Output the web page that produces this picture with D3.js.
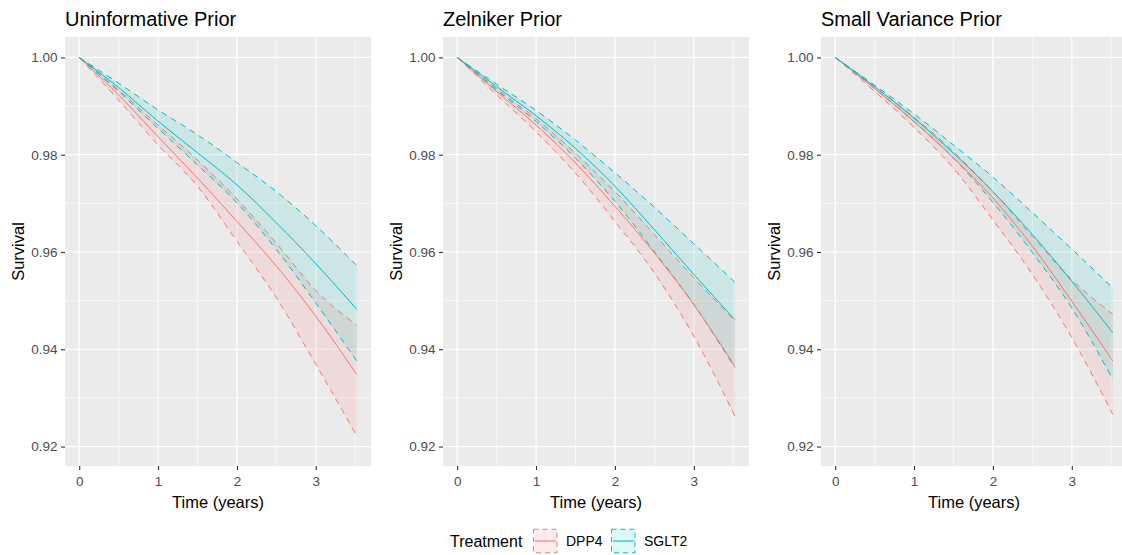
<!DOCTYPE html>
<html>
<head>
<meta charset="utf-8">
<script src="https://cdn.jsdelivr.net/npm/d3@7"></script>
<style>
  html, body { margin: 0; padding: 0; background: #ffffff; }
  svg { display: block; font-family: "Liberation Sans", Arial, sans-serif; }
</style>
</head>
<body>
<script>
// ---------------- data ----------------
const times = [0, 0.5, 1, 1.5, 2, 2.5, 3, 3.52];
const panelTitles = ["Uninformative Prior", "Zelniker Prior", "Small Variance Prior"];
const treatments = ["DPP4", "SGLT2"];
const yTickValues = [0.92, 0.94, 0.96, 0.98, 1.00];
const xTickValues = [0, 1, 2, 3];

// Uninformative prior
const uninfDPP4Mean  = [1, 0.9923, 0.9837, 0.9752, 0.9663, 0.9571, 0.9468, 0.9348];
const uninfDPP4Lower = [1, 0.9912, 0.9820, 0.9735, 0.9622, 0.9506, 0.9369, 0.9222];
const uninfDPP4Upper = [1, 0.9933, 0.9861, 0.9789, 0.9709, 0.9618, 0.9521, 0.9449];
const uninfSGLT2Mean  = [1, 0.9938, 0.9869, 0.9804, 0.9738, 0.9660, 0.9576, 0.9482];
const uninfSGLT2Lower = [1, 0.9930, 0.9854, 0.9779, 0.9701, 0.9605, 0.9495, 0.9376];
const uninfSGLT2Upper = [1, 0.9947, 0.9892, 0.9841, 0.9784, 0.9724, 0.9654, 0.9572];

// Zelniker prior
const zelDPP4Mean  = [1, 0.9930, 0.9861, 0.9783, 0.9694, 0.9598, 0.9492, 0.9365];
const zelDPP4Lower = [1, 0.9923, 0.9847, 0.9762, 0.9663, 0.9557, 0.9427, 0.9263];
const zelDPP4Upper = [1, 0.9936, 0.9874, 0.9803, 0.9724, 0.9636, 0.9547, 0.9458];
const zelSGLT2Mean  = [1, 0.9940, 0.9880, 0.9813, 0.9735, 0.9646, 0.9554, 0.9461];
const zelSGLT2Lower = [1, 0.9933, 0.9868, 0.9793, 0.9704, 0.9601, 0.9492, 0.9362];
const zelSGLT2Upper = [1, 0.9945, 0.9891, 0.9830, 0.9763, 0.9692, 0.9617, 0.9538];

// Small variance prior
const smallDPP4Mean  = [1, 0.9936, 0.9868, 0.9793, 0.9711, 0.9612, 0.9499, 0.9376];
const smallDPP4Lower = [1, 0.9930, 0.9856, 0.9772, 0.9666, 0.9554, 0.9424, 0.9266];
const smallDPP4Upper = [1, 0.9940, 0.9877, 0.9806, 0.9724, 0.9632, 0.9543, 0.9472];
const smallSGLT2Mean  = [1, 0.9940, 0.9875, 0.9803, 0.9724, 0.9636, 0.9540, 0.9434];
const smallSGLT2Lower = [1, 0.9936, 0.9868, 0.9793, 0.9702, 0.9599, 0.9485, 0.9338];
const smallSGLT2Upper = [1, 0.9943, 0.9884, 0.9820, 0.9754, 0.9681, 0.9606, 0.9526];

const panels = [
  { title: panelTitles[0], series: [
      { name: treatments[0], mean: uninfDPP4Mean, lower: uninfDPP4Lower, upper: uninfDPP4Upper },
      { name: treatments[1], mean: uninfSGLT2Mean, lower: uninfSGLT2Lower, upper: uninfSGLT2Upper } ] },
  { title: panelTitles[1], series: [
      { name: treatments[0], mean: zelDPP4Mean, lower: zelDPP4Lower, upper: zelDPP4Upper },
      { name: treatments[1], mean: zelSGLT2Mean, lower: zelSGLT2Lower, upper: zelSGLT2Upper } ] },
  { title: panelTitles[2], series: [
      { name: treatments[0], mean: smallDPP4Mean, lower: smallDPP4Lower, upper: smallDPP4Upper },
      { name: treatments[1], mean: smallSGLT2Mean, lower: smallSGLT2Lower, upper: smallSGLT2Upper } ] }
];

// ---------------- drawing ----------------
const W = 1122, H = 555;
const color = d3.scaleOrdinal().domain(treatments).range(["#F8766D", "#00BFC4"]);
const fillOpacity = 0.13;
const dash = "6,5";

const svg = d3.select("body").append("svg").attr("width", W).attr("height", H);

const panelTop = 37, panelBottom = 466, panelW = 306, panelStep = 378, firstLeft = 65;
const y = d3.scaleLinear().domain([0.9160, 1.0042]).range([panelBottom, panelTop]);
const yMinor = [0.93, 0.95, 0.97, 0.99];
const xMinor = [0.5, 1.5, 2.5, 3.5];

panels.forEach((p, i) => {
  const L = firstLeft + i * panelStep;
  const x = d3.scaleLinear().domain([-0.18, 3.70]).range([L, L + panelW]);
  const g = svg.append("g");

  // panel background
  g.append("rect").attr("x", L).attr("y", panelTop).attr("width", panelW)
    .attr("height", panelBottom - panelTop).attr("fill", "#EBEBEB");

  // minor grid
  g.selectAll(".ymin").data(yMinor).enter().append("line")
    .attr("x1", L).attr("x2", L + panelW).attr("y1", d => y(d)).attr("y2", d => y(d))
    .attr("stroke", "#ffffff").attr("stroke-width", 0.6);
  g.selectAll(".xmin").data(xMinor).enter().append("line")
    .attr("y1", panelTop).attr("y2", panelBottom).attr("x1", d => x(d)).attr("x2", d => x(d))
    .attr("stroke", "#ffffff").attr("stroke-width", 0.6);
  // major grid
  g.selectAll(".ymaj").data(yTickValues).enter().append("line")
    .attr("x1", L).attr("x2", L + panelW).attr("y1", d => y(d)).attr("y2", d => y(d))
    .attr("stroke", "#ffffff").attr("stroke-width", 1.2);
  g.selectAll(".xmaj").data(xTickValues).enter().append("line")
    .attr("y1", panelTop).attr("y2", panelBottom).attr("x1", d => x(d)).attr("x2", d => x(d))
    .attr("stroke", "#ffffff").attr("stroke-width", 1.2);

  const clipId = "clip" + i;
  svg.append("clipPath").attr("id", clipId).append("rect")
    .attr("x", L).attr("y", panelTop).attr("width", panelW).attr("height", panelBottom - panelTop);
  const plot = g.append("g").attr("clip-path", `url(#${clipId})`);

  const area = d3.area().x((d, k) => x(times[k])).y0(d => y(d[0])).y1(d => y(d[1]))
    .curve(d3.curveMonotoneX);
  const line = d3.line().x((d, k) => x(times[k])).y(d => y(d)).curve(d3.curveMonotoneX);

  p.series.forEach(s => {
    const band = s.lower.map((v, k) => [v, s.upper[k]]);
    plot.append("path").attr("d", area(band)).attr("fill", color(s.name))
      .attr("fill-opacity", fillOpacity).attr("stroke", "none");
    [s.lower, s.upper].forEach(arr => {
      plot.append("path").attr("d", line(arr)).attr("fill", "none")
        .attr("stroke", color(s.name)).attr("stroke-width", 1)
        .attr("stroke-dasharray", dash);
    });
  });
  p.series.forEach(s => {
    plot.append("path").attr("d", line(s.mean)).attr("fill", "none")
      .attr("stroke", color(s.name)).attr("stroke-width", 1);
  });

  // axes
  const yAxis = g.append("g").attr("transform", `translate(${L},0)`)
    .call(d3.axisLeft(y).tickValues(yTickValues).tickFormat(d3.format(".2f"))
      .tickSize(4).tickPadding(3.5));
  const xAxis = g.append("g").attr("transform", `translate(0,${panelBottom})`)
    .call(d3.axisBottom(x).tickValues(xTickValues).tickFormat(d3.format("d"))
      .tickSize(4).tickPadding(6));
  [yAxis, xAxis].forEach(ax => {
    ax.select(".domain").remove();
    ax.selectAll(".tick line").attr("stroke", "#333333").attr("stroke-width", 1.1);
    ax.selectAll(".tick text").attr("fill", "#4D4D4D")
      .style("font-size", "13.5px").style("font-family", "'Liberation Sans', Arial, sans-serif");
  });

  // title
  g.append("text").attr("x", L).attr("y", 25.5).text(p.title)
    .attr("fill", "#000").style("font-size", "20px");

  // axis titles
  g.append("text").attr("x", L + panelW / 2).attr("y", 507.5).attr("text-anchor", "middle")
    .text("Time (years)").style("font-size", "16.5px").attr("fill", "#000");
  g.append("text").attr("transform", `translate(${L - 41},${(panelTop + panelBottom) / 2}) rotate(-90)`)
    .attr("text-anchor", "middle").text("Survival").style("font-size", "16.5px").attr("fill", "#000");
});

// ---------------- legend ----------------
const leg = svg.append("g");
const legY = 541;
leg.append("text").attr("x", 450).attr("y", legY + 5.5).text("Treatment")
  .style("font-size", "16px").attr("fill", "#000");
const keyX = [533, 611];
const labX = [566, 644];
treatments.forEach((t, k) => {
  const kx = keyX[k], ks = 24.5;
  leg.append("rect").attr("x", kx).attr("y", legY - ks / 2).attr("width", ks).attr("height", ks)
    .attr("fill", "#ffffff");
  leg.append("rect").attr("x", kx + 0.5).attr("y", legY - ks / 2 + 0.5).attr("width", ks - 1).attr("height", ks - 1)
    .attr("fill", color(t)).attr("fill-opacity", fillOpacity)
    .attr("stroke", color(t)).attr("stroke-width", 1).attr("stroke-dasharray", "5,4");
  leg.append("line").attr("x1", kx + 2).attr("x2", kx + ks - 2).attr("y1", legY).attr("y2", legY)
    .attr("stroke", color(t)).attr("stroke-width", 1.1);
  leg.append("text").attr("x", labX[k]).attr("y", legY + 5).text(t)
    .style("font-size", "14px").attr("fill", "#000");
});
</script>
</body>
</html>
